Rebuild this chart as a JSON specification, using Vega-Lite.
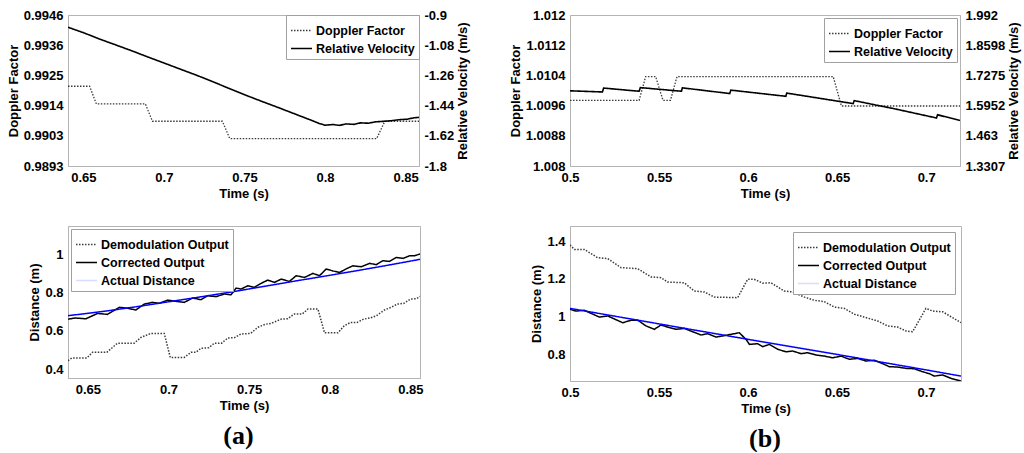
{
  "$schema": "https://vega.github.io/schema/vega-lite/v6.json",
  "padding": {"left": 6, "top": 8, "right": 0, "bottom": 0},
  "background": "white",
  "config": {
    "font": "Liberation Sans",
    "view": {"stroke": "#b4b4b4", "strokeWidth": 1},
    "axis": {
      "labelFont": "Liberation Sans", "labelFontSize": 13, "labelFontWeight": "bold", "labelColor": "#000",
      "titleFont": "Liberation Sans", "titleFontSize": 13, "titleFontWeight": "bold", "titleColor": "#000",
      "grid": false, "ticks": false, "domainColor": "#b4b4b4", "labelPadding": 5, "titlePadding": 3,
      "labelFlush": false, "labelOverlap": false
    },
    "legend": {
      "labelFont": "Liberation Sans", "labelFontSize": 12.5, "labelFontWeight": "bold", "labelColor": "#000",
      "fillColor": "white", "strokeColor": "#a0a0a0", "padding": 4, "offset": 2,
      "symbolType": "stroke", "symbolSize": 441, "symbolStrokeWidth": 1.5, "labelOffset": 3, "rowPadding": -4,
      "title": null
    }
  },
  "datasets": {
    "d": [
      {"p": "a1", "s": "Doppler Factor", "t": 0.6405, "v": 0.99210},
      {"p": "a1", "s": "Doppler Factor", "t": 0.6539, "v": 0.99210},
      {"p": "a1", "s": "Doppler Factor", "t": 0.6581, "v": 0.99148},
      {"p": "a1", "s": "Doppler Factor", "t": 0.6885, "v": 0.99148},
      {"p": "a1", "s": "Doppler Factor", "t": 0.6929, "v": 0.99087},
      {"p": "a1", "s": "Doppler Factor", "t": 0.7363, "v": 0.99087},
      {"p": "a1", "s": "Doppler Factor", "t": 0.7409, "v": 0.99026},
      {"p": "a1", "s": "Doppler Factor", "t": 0.8320, "v": 0.99026},
      {"p": "a1", "s": "Doppler Factor", "t": 0.8371, "v": 0.99087},
      {"p": "a1", "s": "Doppler Factor", "t": 0.8583, "v": 0.99087},

      {"p": "a1", "s": "Relative Velocity", "t": 0.6405, "v": -0.973},
      {"p": "a1", "s": "Relative Velocity", "t": 0.650, "v": -1.005},
      {"p": "a1", "s": "Relative Velocity", "t": 0.660, "v": -1.043},
      {"p": "a1", "s": "Relative Velocity", "t": 0.670, "v": -1.078},
      {"p": "a1", "s": "Relative Velocity", "t": 0.680, "v": -1.113},
      {"p": "a1", "s": "Relative Velocity", "t": 0.690, "v": -1.150},
      {"p": "a1", "s": "Relative Velocity", "t": 0.700, "v": -1.186},
      {"p": "a1", "s": "Relative Velocity", "t": 0.710, "v": -1.222},
      {"p": "a1", "s": "Relative Velocity", "t": 0.720, "v": -1.258},
      {"p": "a1", "s": "Relative Velocity", "t": 0.730, "v": -1.296},
      {"p": "a1", "s": "Relative Velocity", "t": 0.740, "v": -1.336},
      {"p": "a1", "s": "Relative Velocity", "t": 0.750, "v": -1.375},
      {"p": "a1", "s": "Relative Velocity", "t": 0.760, "v": -1.412},
      {"p": "a1", "s": "Relative Velocity", "t": 0.770, "v": -1.448},
      {"p": "a1", "s": "Relative Velocity", "t": 0.780, "v": -1.485},
      {"p": "a1", "s": "Relative Velocity", "t": 0.790, "v": -1.522},
      {"p": "a1", "s": "Relative Velocity", "t": 0.796, "v": -1.545},
      {"p": "a1", "s": "Relative Velocity", "t": 0.800, "v": -1.557},
      {"p": "a1", "s": "Relative Velocity", "t": 0.805, "v": -1.553},
      {"p": "a1", "s": "Relative Velocity", "t": 0.809, "v": -1.558},
      {"p": "a1", "s": "Relative Velocity", "t": 0.813, "v": -1.549},
      {"p": "a1", "s": "Relative Velocity", "t": 0.818, "v": -1.552},
      {"p": "a1", "s": "Relative Velocity", "t": 0.822, "v": -1.543},
      {"p": "a1", "s": "Relative Velocity", "t": 0.827, "v": -1.545},
      {"p": "a1", "s": "Relative Velocity", "t": 0.831, "v": -1.537},
      {"p": "a1", "s": "Relative Velocity", "t": 0.836, "v": -1.534},
      {"p": "a1", "s": "Relative Velocity", "t": 0.841, "v": -1.530},
      {"p": "a1", "s": "Relative Velocity", "t": 0.846, "v": -1.524},
      {"p": "a1", "s": "Relative Velocity", "t": 0.851, "v": -1.521},
      {"p": "a1", "s": "Relative Velocity", "t": 0.855, "v": -1.513},
      {"p": "a1", "s": "Relative Velocity", "t": 0.8583, "v": -1.510},

      {"p": "b1", "s": "Doppler Factor", "t": 0.5, "v": 1.00974},
      {"p": "b1", "s": "Doppler Factor", "t": 0.5388, "v": 1.00974},
      {"p": "b1", "s": "Doppler Factor", "t": 0.5425, "v": 1.01037},
      {"p": "b1", "s": "Doppler Factor", "t": 0.5481, "v": 1.01037},
      {"p": "b1", "s": "Doppler Factor", "t": 0.5522, "v": 1.00974},
      {"p": "b1", "s": "Doppler Factor", "t": 0.5564, "v": 1.00974},
      {"p": "b1", "s": "Doppler Factor", "t": 0.5601, "v": 1.01037},
      {"p": "b1", "s": "Doppler Factor", "t": 0.6478, "v": 1.01037},
      {"p": "b1", "s": "Doppler Factor", "t": 0.6524, "v": 1.00959},
      {"p": "b1", "s": "Doppler Factor", "t": 0.719, "v": 1.00959},

      {"p": "b1", "s": "Relative Velocity", "t": 0.5, "v": 1.660},
      {"p": "b1", "s": "Relative Velocity", "t": 0.5182, "v": 1.655},
      {"p": "b1", "s": "Relative Velocity", "t": 0.5189, "v": 1.672},
      {"p": "b1", "s": "Relative Velocity", "t": 0.5388, "v": 1.658},
      {"p": "b1", "s": "Relative Velocity", "t": 0.5395, "v": 1.674},
      {"p": "b1", "s": "Relative Velocity", "t": 0.5626, "v": 1.658},
      {"p": "b1", "s": "Relative Velocity", "t": 0.5631, "v": 1.673},
      {"p": "b1", "s": "Relative Velocity", "t": 0.5897, "v": 1.648},
      {"p": "b1", "s": "Relative Velocity", "t": 0.5903, "v": 1.663},
      {"p": "b1", "s": "Relative Velocity", "t": 0.6212, "v": 1.636},
      {"p": "b1", "s": "Relative Velocity", "t": 0.6217, "v": 1.650},
      {"p": "b1", "s": "Relative Velocity", "t": 0.6590, "v": 1.604},
      {"p": "b1", "s": "Relative Velocity", "t": 0.6596, "v": 1.617},
      {"p": "b1", "s": "Relative Velocity", "t": 0.6830, "v": 1.580},
      {"p": "b1", "s": "Relative Velocity", "t": 0.7058, "v": 1.541},
      {"p": "b1", "s": "Relative Velocity", "t": 0.7064, "v": 1.555},
      {"p": "b1", "s": "Relative Velocity", "t": 0.719, "v": 1.530},

      {"p": "a2", "s": "Demodulation Output", "t": 0.6377, "v": 0.444},
      {"p": "a2", "s": "Demodulation Output", "t": 0.6400, "v": 0.458},
      {"p": "a2", "s": "Demodulation Output", "t": 0.6494, "v": 0.458},
      {"p": "a2", "s": "Demodulation Output", "t": 0.6529, "v": 0.488},
      {"p": "a2", "s": "Demodulation Output", "t": 0.6618, "v": 0.488},
      {"p": "a2", "s": "Demodulation Output", "t": 0.6684, "v": 0.536},
      {"p": "a2", "s": "Demodulation Output", "t": 0.6788, "v": 0.536},
      {"p": "a2", "s": "Demodulation Output", "t": 0.6829, "v": 0.566},
      {"p": "a2", "s": "Demodulation Output", "t": 0.6891, "v": 0.587},
      {"p": "a2", "s": "Demodulation Output", "t": 0.6974, "v": 0.587},
      {"p": "a2", "s": "Demodulation Output", "t": 0.7011, "v": 0.461},
      {"p": "a2", "s": "Demodulation Output", "t": 0.7098, "v": 0.461},
      {"p": "a2", "s": "Demodulation Output", "t": 0.7140, "v": 0.488},
      {"p": "a2", "s": "Demodulation Output", "t": 0.7170, "v": 0.488},
      {"p": "a2", "s": "Demodulation Output", "t": 0.7202, "v": 0.509},
      {"p": "a2", "s": "Demodulation Output", "t": 0.7250, "v": 0.512},
      {"p": "a2", "s": "Demodulation Output", "t": 0.7285, "v": 0.536},
      {"p": "a2", "s": "Demodulation Output", "t": 0.7330, "v": 0.536},
      {"p": "a2", "s": "Demodulation Output", "t": 0.7368, "v": 0.563},
      {"p": "a2", "s": "Demodulation Output", "t": 0.7410, "v": 0.565},
      {"p": "a2", "s": "Demodulation Output", "t": 0.7450, "v": 0.584},
      {"p": "a2", "s": "Demodulation Output", "t": 0.7510, "v": 0.587},
      {"p": "a2", "s": "Demodulation Output", "t": 0.7554, "v": 0.619},
      {"p": "a2", "s": "Demodulation Output", "t": 0.7600, "v": 0.635},
      {"p": "a2", "s": "Demodulation Output", "t": 0.7637, "v": 0.640},
      {"p": "a2", "s": "Demodulation Output", "t": 0.7699, "v": 0.662},
      {"p": "a2", "s": "Demodulation Output", "t": 0.7740, "v": 0.664},
      {"p": "a2", "s": "Demodulation Output", "t": 0.7781, "v": 0.689},
      {"p": "a2", "s": "Demodulation Output", "t": 0.7830, "v": 0.689},
      {"p": "a2", "s": "Demodulation Output", "t": 0.7865, "v": 0.715},
      {"p": "a2", "s": "Demodulation Output", "t": 0.7927, "v": 0.715},
      {"p": "a2", "s": "Demodulation Output", "t": 0.7968, "v": 0.590},
      {"p": "a2", "s": "Demodulation Output", "t": 0.8051, "v": 0.590},
      {"p": "a2", "s": "Demodulation Output", "t": 0.8090, "v": 0.627},
      {"p": "a2", "s": "Demodulation Output", "t": 0.8130, "v": 0.645},
      {"p": "a2", "s": "Demodulation Output", "t": 0.8170, "v": 0.645},
      {"p": "a2", "s": "Demodulation Output", "t": 0.8210, "v": 0.662},
      {"p": "a2", "s": "Demodulation Output", "t": 0.8250, "v": 0.668},
      {"p": "a2", "s": "Demodulation Output", "t": 0.8290, "v": 0.680},
      {"p": "a2", "s": "Demodulation Output", "t": 0.8340, "v": 0.710},
      {"p": "a2", "s": "Demodulation Output", "t": 0.8380, "v": 0.724},
      {"p": "a2", "s": "Demodulation Output", "t": 0.8420, "v": 0.741},
      {"p": "a2", "s": "Demodulation Output", "t": 0.8460, "v": 0.745},
      {"p": "a2", "s": "Demodulation Output", "t": 0.8500, "v": 0.767},
      {"p": "a2", "s": "Demodulation Output", "t": 0.8540, "v": 0.770},
      {"p": "a2", "s": "Demodulation Output", "t": 0.8560, "v": 0.782},

      {"p": "a2", "s": "Corrected Output", "t": 0.6378, "v": 0.662},
      {"p": "a2", "s": "Corrected Output", "t": 0.6420, "v": 0.668},
      {"p": "a2", "s": "Corrected Output", "t": 0.6488, "v": 0.664},
      {"p": "a2", "s": "Corrected Output", "t": 0.6560, "v": 0.692},
      {"p": "a2", "s": "Corrected Output", "t": 0.6622, "v": 0.687},
      {"p": "a2", "s": "Corrected Output", "t": 0.6695, "v": 0.724},
      {"p": "a2", "s": "Corrected Output", "t": 0.6740, "v": 0.720},
      {"p": "a2", "s": "Corrected Output", "t": 0.6798, "v": 0.710},
      {"p": "a2", "s": "Corrected Output", "t": 0.6850, "v": 0.741},
      {"p": "a2", "s": "Corrected Output", "t": 0.6900, "v": 0.750},
      {"p": "a2", "s": "Corrected Output", "t": 0.6943, "v": 0.745},
      {"p": "a2", "s": "Corrected Output", "t": 0.6995, "v": 0.762},
      {"p": "a2", "s": "Corrected Output", "t": 0.7050, "v": 0.755},
      {"p": "a2", "s": "Corrected Output", "t": 0.7098, "v": 0.750},
      {"p": "a2", "s": "Corrected Output", "t": 0.7150, "v": 0.773},
      {"p": "a2", "s": "Corrected Output", "t": 0.7202, "v": 0.764},
      {"p": "a2", "s": "Corrected Output", "t": 0.7243, "v": 0.785},
      {"p": "a2", "s": "Corrected Output", "t": 0.7295, "v": 0.780},
      {"p": "a2", "s": "Corrected Output", "t": 0.7347, "v": 0.794},
      {"p": "a2", "s": "Corrected Output", "t": 0.7388, "v": 0.790},
      {"p": "a2", "s": "Corrected Output", "t": 0.7420, "v": 0.825},
      {"p": "a2", "s": "Corrected Output", "t": 0.7450, "v": 0.820},
      {"p": "a2", "s": "Corrected Output", "t": 0.7492, "v": 0.837},
      {"p": "a2", "s": "Corrected Output", "t": 0.7533, "v": 0.829},
      {"p": "a2", "s": "Corrected Output", "t": 0.7575, "v": 0.850},
      {"p": "a2", "s": "Corrected Output", "t": 0.7616, "v": 0.867},
      {"p": "a2", "s": "Corrected Output", "t": 0.7657, "v": 0.855},
      {"p": "a2", "s": "Corrected Output", "t": 0.7699, "v": 0.872},
      {"p": "a2", "s": "Corrected Output", "t": 0.7750, "v": 0.860},
      {"p": "a2", "s": "Corrected Output", "t": 0.7792, "v": 0.890},
      {"p": "a2", "s": "Corrected Output", "t": 0.7844, "v": 0.881},
      {"p": "a2", "s": "Corrected Output", "t": 0.7896, "v": 0.902},
      {"p": "a2", "s": "Corrected Output", "t": 0.7937, "v": 0.890},
      {"p": "a2", "s": "Corrected Output", "t": 0.7978, "v": 0.925},
      {"p": "a2", "s": "Corrected Output", "t": 0.8020, "v": 0.915},
      {"p": "a2", "s": "Corrected Output", "t": 0.8061, "v": 0.907},
      {"p": "a2", "s": "Corrected Output", "t": 0.8100, "v": 0.925},
      {"p": "a2", "s": "Corrected Output", "t": 0.8144, "v": 0.942},
      {"p": "a2", "s": "Corrected Output", "t": 0.8196, "v": 0.937},
      {"p": "a2", "s": "Corrected Output", "t": 0.8247, "v": 0.955},
      {"p": "a2", "s": "Corrected Output", "t": 0.8289, "v": 0.948},
      {"p": "a2", "s": "Corrected Output", "t": 0.8330, "v": 0.969},
      {"p": "a2", "s": "Corrected Output", "t": 0.8371, "v": 0.965},
      {"p": "a2", "s": "Corrected Output", "t": 0.8413, "v": 0.986},
      {"p": "a2", "s": "Corrected Output", "t": 0.8455, "v": 0.981},
      {"p": "a2", "s": "Corrected Output", "t": 0.8496, "v": 0.995},
      {"p": "a2", "s": "Corrected Output", "t": 0.8527, "v": 0.995},
      {"p": "a2", "s": "Corrected Output", "t": 0.8560, "v": 1.004},

      {"p": "a2", "s": "Actual Distance", "t": 0.6377, "v": 0.680},
      {"p": "a2", "s": "Actual Distance", "t": 0.66, "v": 0.703},
      {"p": "a2", "s": "Actual Distance", "t": 0.68, "v": 0.727},
      {"p": "a2", "s": "Actual Distance", "t": 0.70, "v": 0.753},
      {"p": "a2", "s": "Actual Distance", "t": 0.72, "v": 0.779},
      {"p": "a2", "s": "Actual Distance", "t": 0.74, "v": 0.806},
      {"p": "a2", "s": "Actual Distance", "t": 0.76, "v": 0.835},
      {"p": "a2", "s": "Actual Distance", "t": 0.78, "v": 0.864},
      {"p": "a2", "s": "Actual Distance", "t": 0.80, "v": 0.892},
      {"p": "a2", "s": "Actual Distance", "t": 0.82, "v": 0.921},
      {"p": "a2", "s": "Actual Distance", "t": 0.84, "v": 0.951},
      {"p": "a2", "s": "Actual Distance", "t": 0.856, "v": 0.976},

      {"p": "b2", "s": "Demodulation Output", "t": 0.5000, "v": 1.379},
      {"p": "b2", "s": "Demodulation Output", "t": 0.5025, "v": 1.356},
      {"p": "b2", "s": "Demodulation Output", "t": 0.5080, "v": 1.356},
      {"p": "b2", "s": "Demodulation Output", "t": 0.5155, "v": 1.312},
      {"p": "b2", "s": "Demodulation Output", "t": 0.5212, "v": 1.307},
      {"p": "b2", "s": "Demodulation Output", "t": 0.5287, "v": 1.259},
      {"p": "b2", "s": "Demodulation Output", "t": 0.5380, "v": 1.254},
      {"p": "b2", "s": "Demodulation Output", "t": 0.5455, "v": 1.210},
      {"p": "b2", "s": "Demodulation Output", "t": 0.5511, "v": 1.206},
      {"p": "b2", "s": "Demodulation Output", "t": 0.5548, "v": 1.183},
      {"p": "b2", "s": "Demodulation Output", "t": 0.5642, "v": 1.179},
      {"p": "b2", "s": "Demodulation Output", "t": 0.5698, "v": 1.135},
      {"p": "b2", "s": "Demodulation Output", "t": 0.5755, "v": 1.130},
      {"p": "b2", "s": "Demodulation Output", "t": 0.5811, "v": 1.103},
      {"p": "b2", "s": "Demodulation Output", "t": 0.5942, "v": 1.100},
      {"p": "b2", "s": "Demodulation Output", "t": 0.5998, "v": 1.197},
      {"p": "b2", "s": "Demodulation Output", "t": 0.6035, "v": 1.197},
      {"p": "b2", "s": "Demodulation Output", "t": 0.6083, "v": 1.177},
      {"p": "b2", "s": "Demodulation Output", "t": 0.6129, "v": 1.179},
      {"p": "b2", "s": "Demodulation Output", "t": 0.6204, "v": 1.135},
      {"p": "b2", "s": "Demodulation Output", "t": 0.6251, "v": 1.130},
      {"p": "b2", "s": "Demodulation Output", "t": 0.6317, "v": 1.103},
      {"p": "b2", "s": "Demodulation Output", "t": 0.6373, "v": 1.086},
      {"p": "b2", "s": "Demodulation Output", "t": 0.6429, "v": 1.079},
      {"p": "b2", "s": "Demodulation Output", "t": 0.6485, "v": 1.050},
      {"p": "b2", "s": "Demodulation Output", "t": 0.6542, "v": 1.043},
      {"p": "b2", "s": "Demodulation Output", "t": 0.6598, "v": 1.012},
      {"p": "b2", "s": "Demodulation Output", "t": 0.6654, "v": 0.997},
      {"p": "b2", "s": "Demodulation Output", "t": 0.6729, "v": 0.976},
      {"p": "b2", "s": "Demodulation Output", "t": 0.6785, "v": 0.950},
      {"p": "b2", "s": "Demodulation Output", "t": 0.6841, "v": 0.944},
      {"p": "b2", "s": "Demodulation Output", "t": 0.6888, "v": 0.923},
      {"p": "b2", "s": "Demodulation Output", "t": 0.6925, "v": 0.919},
      {"p": "b2", "s": "Demodulation Output", "t": 0.7000, "v": 1.043},
      {"p": "b2", "s": "Demodulation Output", "t": 0.7038, "v": 1.029},
      {"p": "b2", "s": "Demodulation Output", "t": 0.7094, "v": 1.025},
      {"p": "b2", "s": "Demodulation Output", "t": 0.7150, "v": 0.994},
      {"p": "b2", "s": "Demodulation Output", "t": 0.7197, "v": 0.967},

      {"p": "b2", "s": "Corrected Output", "t": 0.5000, "v": 1.038},
      {"p": "b2", "s": "Corrected Output", "t": 0.5034, "v": 1.029},
      {"p": "b2", "s": "Corrected Output", "t": 0.5080, "v": 1.033},
      {"p": "b2", "s": "Corrected Output", "t": 0.5165, "v": 0.997},
      {"p": "b2", "s": "Corrected Output", "t": 0.5212, "v": 1.003},
      {"p": "b2", "s": "Corrected Output", "t": 0.5296, "v": 0.967},
      {"p": "b2", "s": "Corrected Output", "t": 0.5343, "v": 0.980},
      {"p": "b2", "s": "Corrected Output", "t": 0.5380, "v": 0.981},
      {"p": "b2", "s": "Corrected Output", "t": 0.5427, "v": 0.950},
      {"p": "b2", "s": "Corrected Output", "t": 0.5474, "v": 0.932},
      {"p": "b2", "s": "Corrected Output", "t": 0.5511, "v": 0.955},
      {"p": "b2", "s": "Corrected Output", "t": 0.5558, "v": 0.941},
      {"p": "b2", "s": "Corrected Output", "t": 0.5596, "v": 0.932},
      {"p": "b2", "s": "Corrected Output", "t": 0.5642, "v": 0.937},
      {"p": "b2", "s": "Corrected Output", "t": 0.5736, "v": 0.902},
      {"p": "b2", "s": "Corrected Output", "t": 0.5774, "v": 0.909},
      {"p": "b2", "s": "Corrected Output", "t": 0.5820, "v": 0.891},
      {"p": "b2", "s": "Corrected Output", "t": 0.5858, "v": 0.897},
      {"p": "b2", "s": "Corrected Output", "t": 0.5951, "v": 0.914},
      {"p": "b2", "s": "Corrected Output", "t": 0.5989, "v": 0.879},
      {"p": "b2", "s": "Corrected Output", "t": 0.6008, "v": 0.852},
      {"p": "b2", "s": "Corrected Output", "t": 0.6054, "v": 0.856},
      {"p": "b2", "s": "Corrected Output", "t": 0.6083, "v": 0.840},
      {"p": "b2", "s": "Corrected Output", "t": 0.6120, "v": 0.852},
      {"p": "b2", "s": "Corrected Output", "t": 0.6167, "v": 0.826},
      {"p": "b2", "s": "Corrected Output", "t": 0.6214, "v": 0.813},
      {"p": "b2", "s": "Corrected Output", "t": 0.6251, "v": 0.817},
      {"p": "b2", "s": "Corrected Output", "t": 0.6298, "v": 0.803},
      {"p": "b2", "s": "Corrected Output", "t": 0.6335, "v": 0.808},
      {"p": "b2", "s": "Corrected Output", "t": 0.6382, "v": 0.796},
      {"p": "b2", "s": "Corrected Output", "t": 0.6429, "v": 0.790},
      {"p": "b2", "s": "Corrected Output", "t": 0.6476, "v": 0.781},
      {"p": "b2", "s": "Corrected Output", "t": 0.6523, "v": 0.790},
      {"p": "b2", "s": "Corrected Output", "t": 0.6570, "v": 0.773},
      {"p": "b2", "s": "Corrected Output", "t": 0.6616, "v": 0.778},
      {"p": "b2", "s": "Corrected Output", "t": 0.6663, "v": 0.764},
      {"p": "b2", "s": "Corrected Output", "t": 0.6710, "v": 0.768},
      {"p": "b2", "s": "Corrected Output", "t": 0.6757, "v": 0.750},
      {"p": "b2", "s": "Corrected Output", "t": 0.6794, "v": 0.734},
      {"p": "b2", "s": "Corrected Output", "t": 0.6841, "v": 0.732},
      {"p": "b2", "s": "Corrected Output", "t": 0.6888, "v": 0.725},
      {"p": "b2", "s": "Corrected Output", "t": 0.6935, "v": 0.723},
      {"p": "b2", "s": "Corrected Output", "t": 0.6981, "v": 0.707},
      {"p": "b2", "s": "Corrected Output", "t": 0.7019, "v": 0.697},
      {"p": "b2", "s": "Corrected Output", "t": 0.7047, "v": 0.684},
      {"p": "b2", "s": "Corrected Output", "t": 0.7094, "v": 0.690},
      {"p": "b2", "s": "Corrected Output", "t": 0.7141, "v": 0.672},
      {"p": "b2", "s": "Corrected Output", "t": 0.7197, "v": 0.658},

      {"p": "b2", "s": "Actual Distance", "t": 0.5000, "v": 1.043},
      {"p": "b2", "s": "Actual Distance", "t": 0.5500, "v": 0.961},
      {"p": "b2", "s": "Actual Distance", "t": 0.6000, "v": 0.879},
      {"p": "b2", "s": "Actual Distance", "t": 0.6500, "v": 0.799},
      {"p": "b2", "s": "Actual Distance", "t": 0.7000, "v": 0.717},
      {"p": "b2", "s": "Actual Distance", "t": 0.7197, "v": 0.684}
    ]
  },
  "spacing": 37,
  "resolve": {"scale": {"color": "independent", "strokeDash": "independent"}, "legend": {"color": "independent", "strokeDash": "independent"}},
  "hconcat": [
    {
      "spacing": 24,
      "resolve": {"scale": {"color": "independent", "strokeDash": "independent"}, "legend": {"color": "independent", "strokeDash": "independent"}},
      "title": {"text": "(a)", "orient": "bottom", "font": "Liberation Serif", "fontSize": 26, "fontWeight": "bold", "color": "#000", "anchor": "middle", "offset": 10},
      "vconcat": [
        {
          "width": 351, "height": 151,
          "data": {"name": "d"},
          "transform": [{"filter": "datum.p == 'a1'"}],
          "encoding": {
            "x": {"field": "t", "type": "quantitative", "title": "Time (s)",
                  "scale": {"domain": [0.6405, 0.8583], "nice": false, "zero": false},
                  "axis": {"values": [0.65, 0.7, 0.75, 0.8, 0.85], "format": "~g"}},
            "color": {"field": "s", "type": "nominal",
                      "scale": {"domain": ["Doppler Factor", "Relative Velocity"], "range": ["#3a3a3a", "#000000"]},
                      "legend": {"orient": "top-right", "offset": 0}},
            "strokeDash": {"field": "s", "type": "nominal",
                           "scale": {"domain": ["Doppler Factor", "Relative Velocity"], "range": [[1.5, 1.5], [1, 0]]},
                           "legend": {"orient": "top-right", "offset": 0}}
          },
          "layer": [
            {
              "transform": [{"filter": "datum.s == 'Doppler Factor'"}],
              "mark": {"type": "line", "strokeWidth": 1.3, "clip": true},
              "encoding": {
                "y": {"field": "v", "type": "quantitative", "title": "Doppler Factor",
                      "scale": {"domain": [0.9893, 0.9946], "nice": false, "zero": false},
                      "axis": {"values": [0.9893, 0.99036, 0.99142, 0.99248, 0.99354, 0.9946],
                               "labelExpr": "datum.value < 0.9898 ? '0.9893' : datum.value < 0.9909 ? '0.9903' : datum.value < 0.9920 ? '0.9914' : datum.value < 0.9930 ? '0.9925' : datum.value < 0.9941 ? '0.9936' : '0.9946'"}}
              }
            },
            {
              "transform": [{"filter": "datum.s == 'Relative Velocity'"}],
              "mark": {"type": "line", "strokeWidth": 1.6, "clip": true},
              "encoding": {
                "y": {"field": "v", "type": "quantitative", "title": "Relative Velocity (m/s)",
                      "scale": {"domain": [-1.8, -0.9], "nice": false, "zero": false},
                      "axis": {"orient": "right", "titleAngle": 270, "titleBaseline": "top", "values": [-1.8, -1.62, -1.44, -1.26, -1.08, -0.9],
                               "labelExpr": "replace(format(datum.value, '~g'), '\u2212', '-')"}}
              }
            }
          ],
          "resolve": {"scale": {"y": "independent"}}
        },
        {
          "width": 352, "height": 152,
          "data": {"name": "d"},
          "transform": [{"filter": "datum.p == 'a2'"}],
          "mark": {"type": "line", "clip": true},
          "encoding": {
            "x": {"field": "t", "type": "quantitative", "title": "Time (s)",
                  "scale": {"domain": [0.6377, 0.856], "nice": false, "zero": false},
                  "axis": {"values": [0.65, 0.7, 0.75, 0.8, 0.85], "format": "~g"}},
            "y": {"field": "v", "type": "quantitative", "title": "Distance (m)",
                  "scale": {"domain": [0.353, 1.151], "nice": false, "zero": false},
                  "axis": {"values": [0.4, 0.6, 0.8, 1], "format": "~g"}},
            "color": {"field": "s", "type": "nominal",
                      "scale": {"domain": ["Demodulation Output", "Corrected Output", "Actual Distance"], "range": ["#3a3a3a", "#000000", "#0000ff"]},
                      "legend": {"orient": "top-left", "offset": 3,
                                 "encode": {"symbols": {"update": {"strokeOpacity": {"signal": "datum.label == 'Actual Distance' ? 0.14 : 1"}}}}}},
            "strokeDash": {"field": "s", "type": "nominal",
                           "scale": {"domain": ["Demodulation Output", "Corrected Output", "Actual Distance"], "range": [[1.5, 1.5], [1, 0], [1, 0]]},
                           "legend": {"orient": "top-left", "offset": 3}},
            "strokeWidth": {"value": 1.5}
          }
        }
      ]
    },
    {
      "spacing": 24,
      "resolve": {"scale": {"color": "independent", "strokeDash": "independent"}, "legend": {"color": "independent", "strokeDash": "independent"}},
      "title": {"text": "(b)", "orient": "bottom", "font": "Liberation Serif", "fontSize": 26, "fontWeight": "bold", "color": "#000", "anchor": "middle", "offset": 10},
      "vconcat": [
        {
          "width": 390, "height": 151,
          "data": {"name": "d"},
          "transform": [{"filter": "datum.p == 'b1'"}],
          "encoding": {
            "x": {"field": "t", "type": "quantitative", "title": "Time (s)",
                  "scale": {"domain": [0.5, 0.719], "nice": false, "zero": false},
                  "axis": {"values": [0.5, 0.55, 0.6, 0.65, 0.7], "format": "~g"}},
            "color": {"field": "s", "type": "nominal",
                      "scale": {"domain": ["Doppler Factor", "Relative Velocity"], "range": ["#3a3a3a", "#000000"]},
                      "legend": {"orient": "top-right", "offset": 3}},
            "strokeDash": {"field": "s", "type": "nominal",
                           "scale": {"domain": ["Doppler Factor", "Relative Velocity"], "range": [[1.5, 1.5], [1, 0]]},
                           "legend": {"orient": "top-right", "offset": 3}}
          },
          "layer": [
            {
              "transform": [{"filter": "datum.s == 'Doppler Factor'"}],
              "mark": {"type": "line", "strokeWidth": 1.3, "clip": true},
              "encoding": {
                "y": {"field": "v", "type": "quantitative", "title": "Doppler Factor",
                      "scale": {"domain": [1.008, 1.012], "nice": false, "zero": false},
                      "axis": {"values": [1.008, 1.0088, 1.0096, 1.0104, 1.0112, 1.012], "format": ".5~g"}}
              }
            },
            {
              "transform": [{"filter": "datum.s == 'Relative Velocity'"}],
              "mark": {"type": "line", "strokeWidth": 1.6, "clip": true},
              "encoding": {
                "y": {"field": "v", "type": "quantitative", "title": "Relative Velocity (m/s)",
                      "scale": {"domain": [1.3307, 1.992], "nice": false, "zero": false},
                      "axis": {"orient": "right", "titleAngle": 270, "titleBaseline": "top", "values": [1.3307, 1.463, 1.5952, 1.7275, 1.8598, 1.992], "format": ".5~g"}}
              }
            }
          ],
          "resolve": {"scale": {"y": "independent"}}
        },
        {
          "width": 391, "height": 155,
          "data": {"name": "d"},
          "transform": [{"filter": "datum.p == 'b2'"}],
          "mark": {"type": "line", "clip": true},
          "encoding": {
            "x": {"field": "t", "type": "quantitative", "title": "Time (s)",
                  "scale": {"domain": [0.5, 0.7197], "nice": false, "zero": false},
                  "axis": {"values": [0.5, 0.55, 0.6, 0.65, 0.7], "format": "~g"}},
            "y": {"field": "v", "type": "quantitative", "title": "Distance (m)",
                  "scale": {"domain": [0.658, 1.48], "nice": false, "zero": false},
                  "axis": {"values": [0.8, 1, 1.2, 1.4], "format": "~g"}},
            "color": {"field": "s", "type": "nominal",
                      "scale": {"domain": ["Demodulation Output", "Corrected Output", "Actual Distance"], "range": ["#3a3a3a", "#000000", "#0000ff"]},
                      "legend": {"orient": "top-right", "offset": 6,
                                 "encode": {"symbols": {"update": {"strokeOpacity": {"signal": "datum.label == 'Actual Distance' ? 0.14 : 1"}}}}}},
            "strokeDash": {"field": "s", "type": "nominal",
                           "scale": {"domain": ["Demodulation Output", "Corrected Output", "Actual Distance"], "range": [[1.5, 1.5], [1, 0], [1, 0]]},
                           "legend": {"orient": "top-right", "offset": 6}},
            "strokeWidth": {"value": 1.5}
          }
        }
      ]
    }
  ]
}
